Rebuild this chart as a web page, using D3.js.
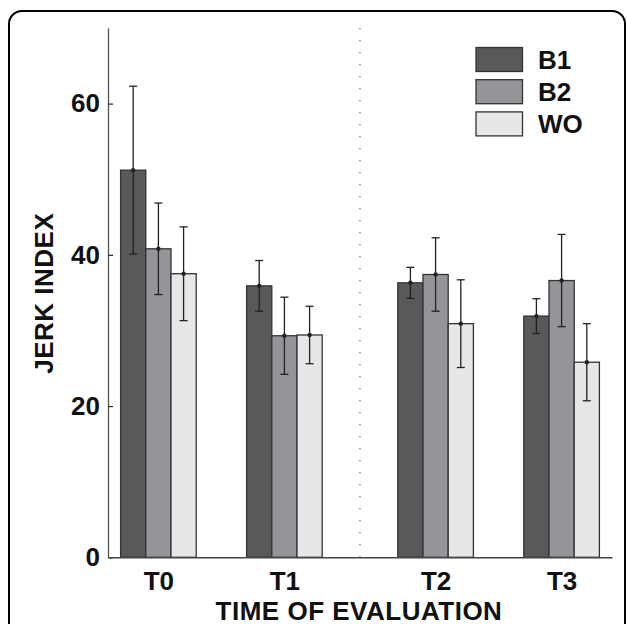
<!DOCTYPE html>
<html>
<head>
<meta charset="utf-8">
<script src="https://cdn.jsdelivr.net/npm/d3@7"></script>
<style>
  html, body { margin: 0; padding: 0; background: #fff; }
  svg { display: block; font-family: "Liberation Sans", Arial, sans-serif; }
</style>
</head>
<body>
<svg id="chart" width="627" height="624"></svg>
<script>
// ---- data ----
const categories = ["T0", "T1", "T2", "T3"];
const seriesNames = ["B1", "B2", "WO"];
const B1 = [51.2, 35.9, 36.3, 31.9];
const B2 = [40.8, 29.3, 37.4, 36.6];
const WO = [37.5, 29.4, 30.9, 25.8];
const errB1 = [11.1, 3.35, 2.05, 2.3];
const errB2 = [6.05, 5.1, 4.85, 6.1];
const errWO = [6.2, 3.8, 5.8, 5.1];
const yTicks = [0, 20, 40, 60];
const yLabel = "JERK INDEX";
const xLabel = "TIME OF EVALUATION";

const values = [B1, B2, WO];
const errors = [errB1, errB2, errWO];
const colors = ["#58595b", "#939598", "#e6e7e8"];

// ---- layout ----
const svg = d3.select("#chart");
const mLeft = 108, mRight = 612, mTop = 28, mBottom = 557.3;
const FS = 26;

// group centre in axis units: a wider gap separates T0/T1 from T2/T3
const groupPos = i => i + 1 + (i >= 2 ? 0.2 : 0);
const separatorPos = (groupPos(1) + groupPos(2)) / 2;
const barW = 0.2;

const x = d3.scaleLinear().domain([0.6, 4.6]).range([mLeft, mRight]);
const y = d3.scaleLinear().domain([0, 70]).range([mBottom, mTop]);

// frame
svg.append("rect")
  .attr("x", 9).attr("y", 11).attr("width", 616).attr("height", 640)
  .attr("rx", 13).attr("ry", 13)
  .attr("fill", "none").attr("stroke", "#000").attr("stroke-width", 2);

// separator dotted line
svg.append("line")
  .attr("x1", x(separatorPos)).attr("x2", x(separatorPos))
  .attr("y1", y(70)).attr("y2", y(0))
  .attr("stroke", "#666").attr("stroke-width", 1.2)
  .attr("stroke-dasharray", "1.2,10.8");

// bars
const bars = [];
seriesNames.forEach((s, si) => {
  categories.forEach((c, ci) => {
    bars.push({ s, si, ci, v: values[si][ci], e: errors[si][ci] });
  });
});

const bx = d => groupPos(d.ci) + (d.si - 1) * barW;

svg.append("g").selectAll("rect").data(bars).join("rect")
  .attr("x", d => x(bx(d) - barW / 2))
  .attr("width", d => x(bx(d) + barW / 2) - x(bx(d) - barW / 2))
  .attr("y", d => y(d.v))
  .attr("height", d => y(0) - y(d.v))
  .attr("fill", d => colors[d.si])
  .attr("stroke", "#333")
  .attr("stroke-width", 1.3);

// error bars
const eg = svg.append("g").attr("stroke", "#222").attr("stroke-width", 1.3);
bars.forEach(d => {
  const cx = x(bx(d));
  eg.append("line").attr("x1", cx).attr("x2", cx)
    .attr("y1", y(d.v + d.e)).attr("y2", y(d.v - d.e));
  [d.v + d.e, d.v - d.e].forEach(v => {
    eg.append("line").attr("x1", cx - 4).attr("x2", cx + 4)
      .attr("y1", y(v)).attr("y2", y(v));
  });
  svg.append("circle").attr("cx", cx).attr("cy", y(d.v)).attr("r", 2.2)
    .attr("fill", "#222");
});

// y axis
const yAxis = svg.append("g")
  .attr("transform", `translate(${mLeft},0)`)
  .call(d3.axisLeft(y).tickValues(yTicks).tickSizeInner(-5).tickSizeOuter(0).tickPadding(8));
yAxis.select(".domain").attr("stroke", "#555").attr("stroke-width", 1.3);
yAxis.selectAll(".tick line").attr("stroke", "#333").attr("stroke-width", 1.3);
yAxis.selectAll(".tick text")
  .attr("font-size", FS).attr("font-weight", "bold").attr("fill", "#111")
  .attr("font-family", "Liberation Sans, Arial, sans-serif");

// x axis
const xAxis = svg.append("g")
  .attr("transform", `translate(0,${mBottom})`)
  .call(d3.axisBottom(x).tickValues(categories.map((c, i) => groupPos(i)))
    .tickFormat((d, i) => categories[i]).tickSize(0).tickPadding(14));
xAxis.select(".domain").attr("stroke", "#444").attr("stroke-width", 1.5);
xAxis.selectAll(".tick text")
  .attr("font-size", FS).attr("font-weight", "bold").attr("fill", "#111")
  .attr("font-family", "Liberation Sans, Arial, sans-serif");

// axis titles
svg.append("text")
  .attr("transform", `translate(52.5,293.3) rotate(-90)`)
  .attr("text-anchor", "middle")
  .attr("font-size", FS).attr("font-weight", "bold").attr("fill", "#111")
  .attr("letter-spacing", 0.5)
  .text(yLabel);

svg.append("text")
  .attr("x", (mLeft + mRight) / 2 - 1).attr("y", 619.5)
  .attr("text-anchor", "middle")
  .attr("font-size", FS).attr("font-weight", "bold").attr("fill", "#111")
  .attr("letter-spacing", 0.5)
  .text(xLabel);

// legend
const lg = svg.append("g");
seriesNames.forEach((s, i) => {
  const yy = 47.5 + i * 32.2;
  lg.append("rect").attr("x", 476).attr("y", yy).attr("width", 46.5).attr("height", 24)
    .attr("fill", colors[i]).attr("stroke", "#333").attr("stroke-width", 1.3);
  lg.append("text").attr("x", 538).attr("y", yy + 21.5)
    .attr("font-size", FS).attr("font-weight", "bold").attr("fill", "#111")
    .text(s);
});
</script>
</body>
</html>
